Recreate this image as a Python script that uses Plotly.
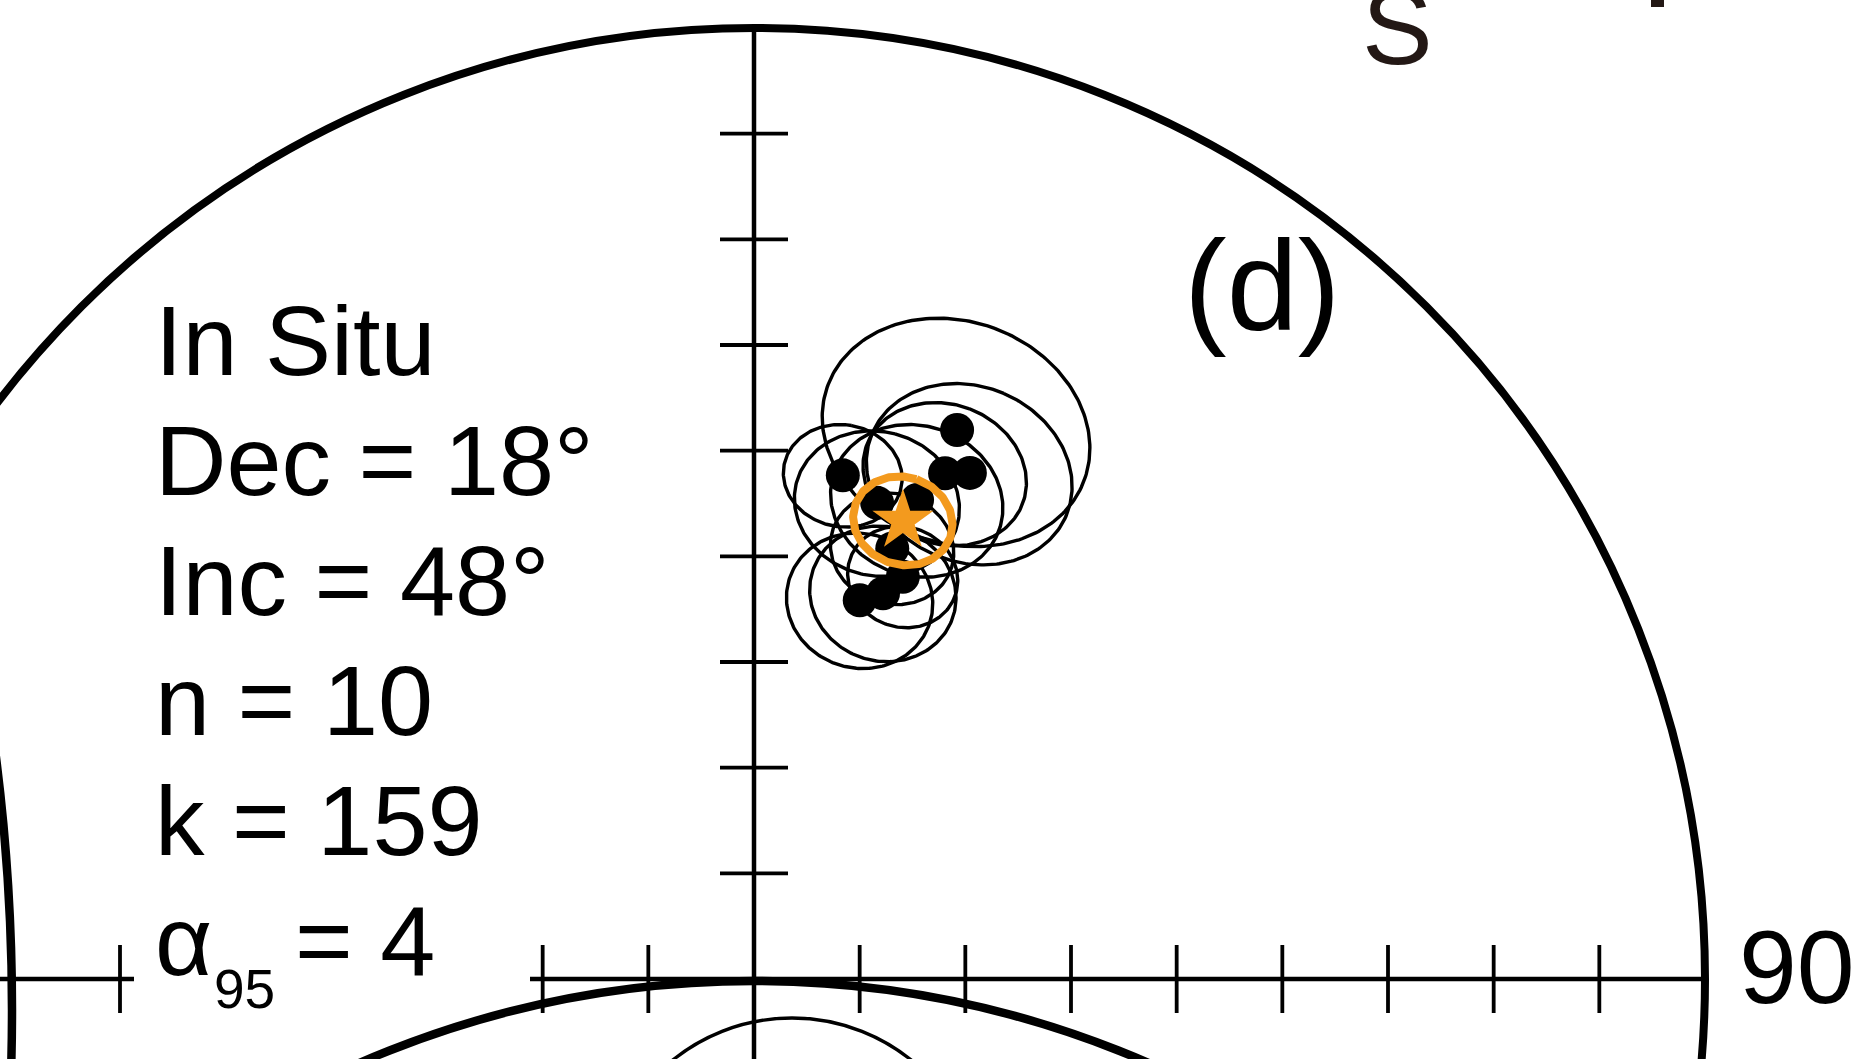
import numpy as np
import plotly.graph_objects as go

# ---------------- data ----------------
site_dec = [20.3, 20.7, 23.1, 10.0, 14.5, 18.8, 20.3, 18.5, 15.6, 17.8]
site_inc = [38.4, 42.6, 41.7, 45.3, 47.1, 45.8, 52.8, 54.8, 56.0, 50.7]
site_a95 = [10.5, 6.5, 8.2, 4.7, 6.6, 6.9, 4.5, 6.0, 6.0, 5.0]

mean_dec = 18
mean_inc = 48
mean_a95 = 4
kappa = 159

frame_label = "In Situ"
panel_label = "(d)"
edge_tick_label = "90"
n_tick_steps = 9

# ---------------- geometry helpers ----------------
W, H = 1859, 1059
PX = 951.0          # pixels per unit radius
CX, CY = 754.0, 979.0


def X(px):
    return (px - CX) / PX


def Y(py):
    return (CY - py) / PX


def proj(dec, inc):
    dec = np.radians(np.asarray(dec, float))
    inc = np.radians(np.asarray(inc, float))
    r = np.sqrt(2.0) * np.sin((np.pi / 2 - inc) / 2.0)
    return r * np.sin(dec), r * np.cos(dec)


def small_circle(dec, inc, a95, n=241):
    D, I, a = np.radians(dec), np.radians(inc), np.radians(a95)
    d = np.array([np.cos(I) * np.cos(D), np.cos(I) * np.sin(D), np.sin(I)])
    u = np.array([np.sin(I) * np.cos(D), np.sin(I) * np.sin(D), -np.cos(I)])
    v = np.array([-np.sin(D), np.cos(D), 0.0])
    t = np.linspace(0, 2 * np.pi, n)
    p = (np.cos(a) * d[:, None]
         + np.sin(a) * (np.cos(t)[None, :] * u[:, None] + np.sin(t)[None, :] * v[:, None]))
    inc2 = np.degrees(np.arcsin(np.clip(p[2], -1, 1)))
    dec2 = np.degrees(np.arctan2(p[1], p[0]))
    return proj(dec2, inc2)


BLACK = "#000000"
ORANGE = "#F39A1E"
FONT = "Liberation Sans, Arial, Helvetica, sans-serif"

fig = go.Figure()

# alpha95 circles of the individual directions
for d, i, a in zip(site_dec, site_inc, site_a95):
    cx, cy = small_circle(d, i, a)
    fig.add_trace(go.Scatter(x=cx, y=cy, mode="lines",
                             line=dict(color=BLACK, width=3.4),
                             hoverinfo="skip", showlegend=False))

# individual directions
sx, sy = proj(site_dec, site_inc)
fig.add_trace(go.Scatter(x=sx, y=sy, mode="markers",
                         marker=dict(color=BLACK, size=34, line=dict(width=0)),
                         showlegend=False))

# mean alpha95 cone
mx, my = small_circle(mean_dec, mean_inc, mean_a95)
fig.add_trace(go.Scatter(x=mx, y=my, mode="lines",
                         line=dict(color=ORANGE, width=8),
                         hoverinfo="skip", showlegend=False))

# mean direction
px_, py_ = proj([mean_dec], [mean_inc])
fig.add_trace(go.Scatter(x=px_, y=py_, mode="markers",
                         marker=dict(symbol="star", color=ORANGE, size=46,
                                     line=dict(width=0)),
                         showlegend=False))

# ---------------- net frame ----------------
shapes = []
# primitive circle
shapes.append(dict(type="circle", xref="x", yref="y", x0=-1, x1=1, y0=-1, y1=1,
                   line=dict(color=BLACK, width=8)))
# N-S axis
shapes.append(dict(type="line", xref="x", yref="y", x0=0, x1=0, y0=1, y1=Y(H + 10),
                   line=dict(color=BLACK, width=4.5)))
# E-W axis (interrupted by the statistics text)
shapes.append(dict(type="line", xref="x", yref="y", x0=-1.2, x1=X(134), y0=0, y1=0,
                   line=dict(color=BLACK, width=4.5)))
shapes.append(dict(type="line", xref="x", yref="y", x0=X(530), x1=1, y0=0, y1=0,
                   line=dict(color=BLACK, width=4.5)))
tick = 34 / PX
step = 1.0 / n_tick_steps
for k in range(1, n_tick_steps):
    yk = k * step
    shapes.append(dict(type="line", xref="x", yref="y", x0=-tick, x1=tick, y0=yk, y1=yk,
                       line=dict(color=BLACK, width=3.8)))
    shapes.append(dict(type="line", xref="x", yref="y", x0=yk, x1=yk, y0=-tick, y1=tick,
                       line=dict(color=BLACK, width=3.8)))
for k in (1, 2, 6):
    xk = -k * step
    shapes.append(dict(type="line", xref="x", yref="y", x0=xk, x1=xk, y0=-tick, y1=tick,
                       line=dict(color=BLACK, width=3.8)))

# neighbouring panels (cropped)
R2 = 990 / PX
c2 = Y(981) - R2
shapes.append(dict(type="circle", xref="x", yref="y", x0=-R2, x1=R2, y0=c2 - R2, y1=c2 + R2,
                   line=dict(color=BLACK, width=8.5)))
r3 = 190 / PX
shapes.append(dict(type="circle", xref="x", yref="y", x0=X(792) - r3, x1=X(792) + r3,
                   y0=Y(1208) - r3, y1=Y(1208) + r3, line=dict(color=BLACK, width=3.4)))
R4 = 2000 / PX
shapes.append(dict(type="circle", xref="x", yref="y", x0=X(12) - 2 * R4, x1=X(12),
                   y0=Y(1010) - R4, y1=Y(1010) + R4, line=dict(color=BLACK, width=8.5)))
# fragment of text above the panel
shapes.append(dict(type="rect", xref="paper", yref="paper", x0=1651 / W, x1=1664 / W,
                   y0=1 - 7 / H, y1=1.01, fillcolor="#231815", line=dict(width=0)))

# ---------------- text ----------------
ann = []


def txt(s, left_px, baseline_px, size, color=BLACK, anchor="top"):
    if anchor == "top":
        ypx = baseline_px - 0.905 * size - 2
    else:
        ypx = baseline_px + 0.212 * size + 2
    ann.append(dict(text=s, xref="paper", yref="paper", x=left_px / W, y=1 - ypx / H,
                    xanchor="left", yanchor=anchor, showarrow=False,
                    font=dict(family=FONT, size=size, color=color)))


n_sites = len(site_dec)
stat_lines = [frame_label,
              f"Dec = {mean_dec}°",
              f"Inc = {mean_inc}°",
              f"n = {n_sites}",
              f"k = {kappa}"]
for j, s in enumerate(stat_lines):
    txt(s, 153, 375 + 120 * j, 99)
# alpha95 line: symbol, subscript and value
txt("α", 153, 975, 99)
txt("95", 212, 1008, 55)
txt(f"= {mean_a95}", 293, 975, 99)

txt(panel_label, 1182, 330, 128)
txt(edge_tick_label, 1737, 1003, 104)
txt("S", 1360, 64, 106, color="#231815", anchor="bottom")

fig.update_layout(
    width=W, height=H, autosize=False,
    margin=dict(l=0, r=0, t=0, b=0, pad=0),
    paper_bgcolor="white", plot_bgcolor="white",
    showlegend=False,
    xaxis=dict(range=[X(0), X(W)], visible=False, showgrid=False, zeroline=False, fixedrange=True),
    yaxis=dict(range=[Y(H), Y(0)], visible=False, showgrid=False, zeroline=False, fixedrange=True),
    shapes=shapes, annotations=ann,
)

fig.write_html("out.html")
